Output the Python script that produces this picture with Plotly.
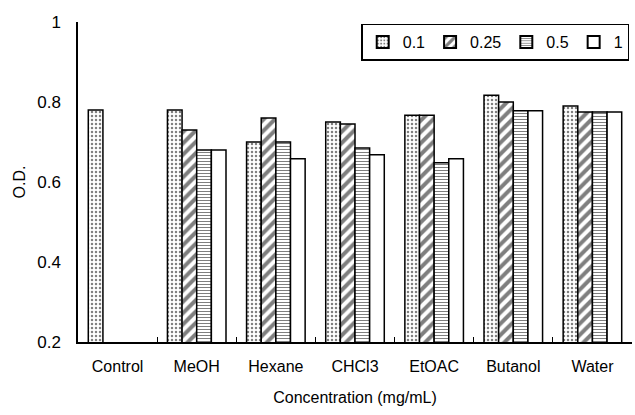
import plotly.graph_objects as go

categories = ["Control", "MeOH", "Hexane", "CHCl3", "EtOAC", "Butanol", "Water"]
series_names = ["0.1", "0.25", "0.5", "1"]
v_01 = [0.78, 0.78, 0.70, 0.75, 0.767, 0.817, 0.79]
v_025 = [None, 0.73, 0.76, 0.745, 0.767, 0.80, 0.775]
v_05 = [None, 0.68, 0.70, 0.685, 0.648, 0.778, 0.775]
v_1 = [None, 0.68, 0.658, 0.668, 0.658, 0.778, 0.775]
values = [v_01, v_025, v_05, v_1]
y_ticks = [0.2, 0.4, 0.6, 0.8, 1]
y_ticklabels = ["0.2", "0.4", "0.6", "0.8", "1"]

patterns = [
    dict(shape=".", fgcolor="black", bgcolor="white", size=4, solidity=0.3),
    dict(shape="/", fgcolor="black", bgcolor="white", size=8, solidity=0.5),
    dict(shape="-", fgcolor="black", bgcolor="white", size=3, solidity=0.35),
    dict(shape="", fgcolor="black", bgcolor="white"),
]

fig = go.Figure()
for name, vals, pat in zip(series_names, values, patterns):
    fig.add_trace(go.Bar(
        x=categories, y=vals, name=name,
        marker=dict(color="white", pattern=pat, line=dict(color="black", width=1.5)),
    ))

fig.update_layout(
    width=635, height=415,
    margin=dict(l=78, r=3, t=22, b=73),
    paper_bgcolor="white", plot_bgcolor="white",
    barmode="group", bargap=0.26, bargroupgap=0,
    font=dict(family="Liberation Sans, Arial, sans-serif", size=16, color="black"),
    legend=dict(
        orientation="h", x=0.995, xanchor="right", y=0.995, yanchor="top",
        bordercolor="black", borderwidth=1.5, bgcolor="white",
        font=dict(size=16), itemwidth=30, traceorder="normal",
        itemsizing="constant", tracegroupgap=0,
    ),
    xaxis=dict(
        showline=True, linecolor="black", linewidth=1.5,
        ticks="inside", tickson="boundaries", ticklen=5, tickcolor="black",
        ticklabelstandoff=9, tickfont=dict(size=16),
        title=dict(text="Concentration (mg/mL)", font=dict(size=16), standoff=18),
        showgrid=False,
    ),
    yaxis=dict(
        range=[0.2, 1], tickvals=y_ticks, ticktext=y_ticklabels,
        showline=True, linecolor="black", linewidth=1.5,
        ticks="outside", ticklen=12, tickcolor="rgba(0,0,0,0)",
        tickfont=dict(size=17),
        title=dict(text="O.D.", font=dict(size=16), standoff=8),
        showgrid=False, zeroline=False,
    ),
    yaxis2=dict(
        range=[0.2, 1], tickvals=y_ticks, overlaying="y", side="left",
        showline=False, showticklabels=False, showgrid=False, zeroline=False,
        ticks="inside", ticklen=5, tickcolor="black", tickwidth=1.5,
    ),
)

fig.write_html("out.html", config={"displayModeBar": False},
               post_script="document.body.style.margin='0';")
